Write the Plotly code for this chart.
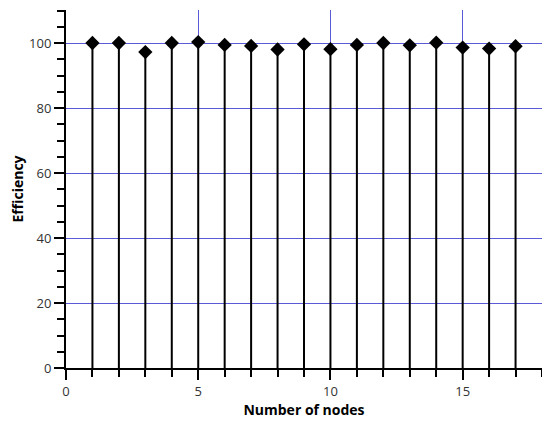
import plotly.graph_objects as go

nodes = list(range(1, 18))
efficiency = [100.0, 100.0, 97.2, 100.0, 100.3, 99.4, 99.1, 98.0, 99.6,
              98.1, 99.4, 100.0, 99.3, 100.1, 98.6, 98.3, 99.0]

stem_x, stem_y = [], []
for xv, yv in zip(nodes, efficiency):
    stem_x += [xv, xv, None]
    stem_y += [0, yv, None]

fig = go.Figure()
fig.add_trace(go.Scatter(x=stem_x, y=stem_y, mode="lines",
                         line=dict(color="black", width=2), hoverinfo="skip"))
fig.add_trace(go.Scatter(x=nodes, y=efficiency, mode="markers",
                         marker=dict(symbol="diamond", size=11, color="black")))

grid_color = "rgb(90,90,215)"
tick_font = dict(family="Open Sans, DejaVu Sans, sans-serif", size=13, color="#333")
title_font = dict(family="Open Sans, DejaVu Sans, sans-serif", size=14, color="black")

# page body has an 8px margin; figure sized/offset to compensate
fig.update_layout(
    width=542, height=418,
    margin=dict(l=58, r=8, t=2, b=58),
    paper_bgcolor="white", plot_bgcolor="white",
    showlegend=False,
    xaxis=dict(
        range=[0, 18], tickmode="linear", tick0=0, dtick=5, automargin=False,
        showgrid=True, gridcolor=grid_color, gridwidth=1,
        showline=True, linecolor="black", linewidth=2,
        ticks="outside", ticklen=10, tickwidth=2, tickcolor="black",
        minor=dict(dtick=1, ticks="outside", ticklen=7, tickwidth=2,
                   tickcolor="black", showgrid=False),
        zeroline=False, tickfont=tick_font,
        title=dict(text="<b>Number of nodes</b>", standoff=6, font=title_font),
    ),
    yaxis=dict(
        range=[0, 110.154], tickmode="array", tickvals=[0, 20, 40, 60, 80, 100], automargin=False,
        showgrid=True, gridcolor=grid_color, gridwidth=1,
        showline=True, linecolor="black", linewidth=2,
        ticks="outside", ticklen=10, tickwidth=2, tickcolor="black",
        minor=dict(dtick=5, tick0=0, ticks="outside", ticklen=7, tickwidth=2,
                   tickcolor="black", showgrid=False),
        zeroline=False, tickfont=tick_font,
        title=dict(text="<b>Efficiency</b>", standoff=8, font=title_font),
    ),
)

fig.write_html("out.html")
